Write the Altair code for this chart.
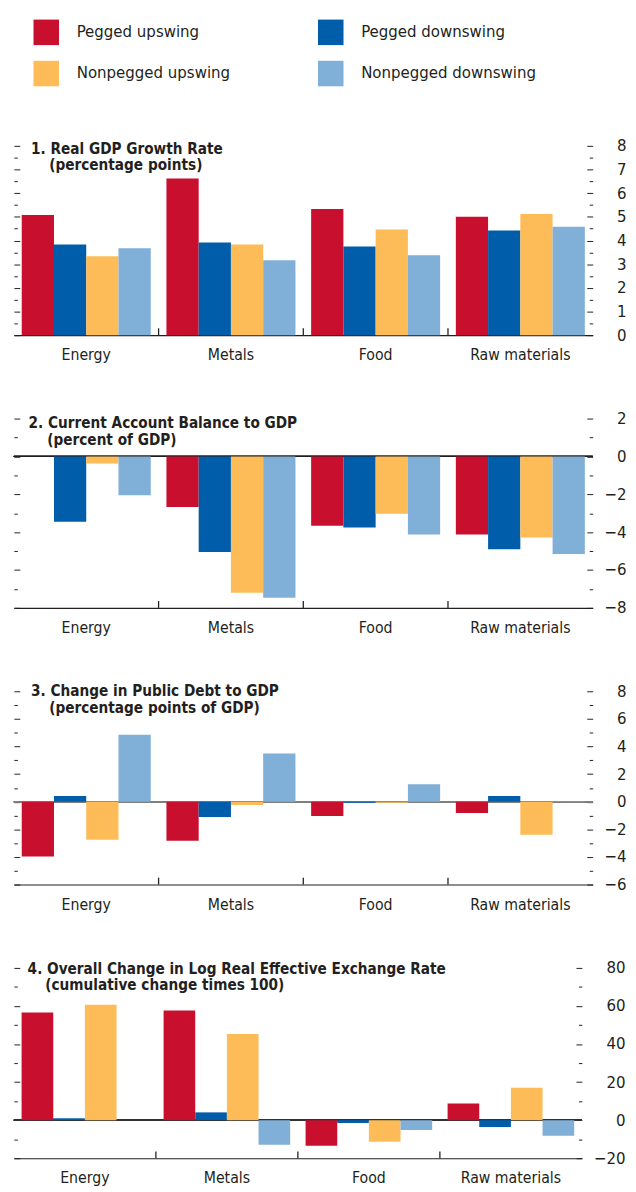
import altair as alt
import pandas as pd

categories = ["Energy", "Metals", "Food", "Raw materials"]
series = ["Pegged upswing", "Pegged downswing", "Nonpegged upswing", "Nonpegged downswing"]
colors = ["#C8102E", "#005DAA", "#FDBC58", "#80AFD7"]
# legend fills column by column: this order gives the reference's two rows
legend_order = ["Pegged upswing", "Nonpegged upswing", "Pegged downswing", "Nonpegged downswing"]
legend_colors = ["#C8102E", "#FDBC58", "#005DAA", "#80AFD7"]

# Panel 1: Real GDP growth rate (percentage points)
gdp_pegged_up = [5.08, 6.62, 5.33, 5.00]
gdp_pegged_down = [3.83, 3.92, 3.75, 4.42]
gdp_nonpegged_up = [3.34, 3.83, 4.46, 5.12]
gdp_nonpegged_down = [3.67, 3.17, 3.38, 4.58]

# Panel 2: Current account balance to GDP (percent of GDP)
ca_pegged_up = [None, -2.67, -3.66, -4.12]
ca_pegged_down = [-3.45, -5.05, -3.76, -4.90]
ca_nonpegged_up = [-0.38, -7.20, -3.03, -4.28]
ca_nonpegged_down = [-2.05, -7.47, -4.12, -5.16]

# Panel 3: Change in public debt to GDP (percentage points of GDP)
debt_pegged_up = [-3.97, -2.82, -1.03, -0.81]
debt_pegged_down = [0.41, -1.10, -0.08, 0.41]
debt_nonpegged_up = [-2.75, -0.24, -0.07, -2.39]
debt_nonpegged_down = [4.85, 3.49, 1.27, 0.03]

# Panel 4: Overall change in log REER (cumulative change times 100)
reer_pegged_up = [56.6, 57.6, -13.4, 8.7]
reer_pegged_down = [1.0, 4.1, -1.5, -3.6]
reer_nonpegged_up = [60.7, 45.3, -11.3, 17.0]
reer_nonpegged_down = [None, -12.9, -5.1, -8.2]

FONT = "Liberation Sans Narrow, DejaVu Sans Condensed, Arial Narrow, sans-serif"
INK = "#231F20"
PAD_INNER = 0.1085


def make_df(cols):
    rows = []
    for s, vals in zip(series, cols):
        for c, v in zip(categories, vals):
            rows.append({"category": c, "series": s, "value": v})
    return pd.DataFrame(rows)


legend = alt.Legend(
    orient="none", legendX=20, legendY=-128.7, columns=2,
    symbolType="square", symbolSize=676, symbolStrokeWidth=0,
    labelFontSize=17, labelOffset=18, columnPadding=89, rowPadding=16,
    padding=0, title=None, labelLimit=400, labelColor=INK, labelFont=FONT,
)

x_axis = alt.Axis(orient="bottom", labelAngle=0, ticks=False, tickSize=0,
                  labelPadding=12, domainColor=INK, domainWidth=1.2, title=None,
                  labelFontSize=16, labelColor=INK, grid=False)


def panel(cols, t1, t2, domain, major, minor, width, height, label_pad,
          zero_color, tpos):
    df = make_df(cols)
    base = alt.Chart(df)
    xscale = alt.Scale(domain=categories, paddingInner=PAD_INNER, paddingOuter=PAD_INNER / 2)
    yscale = alt.Scale(domain=domain, nice=False, zero=False)
    half_gap = PAD_INNER * width / 4 / 2

    bars = base.mark_bar().encode(
        x=alt.X("category:N", scale=xscale, title=None, axis=x_axis),
        xOffset=alt.XOffset("series:N", sort=series,
                            scale=alt.Scale(domain=series, paddingInner=0, paddingOuter=0)),
        y=alt.Y("value:Q", scale=yscale, title=None,
                axis=alt.Axis(orient="left", values=major, labels=False, domain=False,
                              tickSize=6, offset=-6, tickColor=INK, tickWidth=1, grid=False)),
        color=alt.Color("series:N", scale=alt.Scale(domain=legend_order, range=legend_colors),
                        legend=legend, title=None),
    )

    def axis_layer(orient, values, size, labels):
        return base.mark_point(opacity=0).encode(
            x=alt.X("category:N", scale=xscale, title=None, axis=x_axis),
            y=alt.Y("value:Q", scale=yscale, title=None,
                    axis=alt.Axis(orient=orient, values=values, labels=labels, domain=False,
                                  tickSize=size, offset=-size, tickColor=INK, tickWidth=1,
                                  grid=False, labelAlign="right", labelBaseline="middle",
                                  labelPadding=label_pad, labelFontSize=17, labelColor=INK,
                                  format="d")))

    layers = []
    if zero_color is not None:
        layers.append(base.mark_rule(color=zero_color, strokeWidth=1).encode(
            y=alt.YDatum(0, type="quantitative", axis=None, scale=yscale)))
    layers.append(bars)
    sep = alt.Chart(pd.DataFrame({"category": categories[1:]})).mark_rule(
        color=INK, strokeWidth=1.3, xOffset=-half_gap).encode(
        x=alt.X("category:N", scale=xscale, bandPosition=0, title=None, axis=x_axis),
        y=alt.value(height - 7), y2=alt.value(height))
    layers.append(sep)
    layers.append(axis_layer("left", minor, 3.5, False))
    layers.append(axis_layer("right", major, 6, True))
    layers.append(axis_layer("right", minor, 3.5, False))
    (x1, y1, x2) = tpos
    for txt, xx, yy in [(t1, x1, y1), (t2, x2, y1 + 17)]:
        layers.append(alt.Chart(pd.DataFrame({"t": [txt]})).mark_text(
            align="left", baseline="alphabetic", fontSize=15.5, fontWeight="bold",
            color=INK, font=FONT).encode(
            text="t:N", x=alt.value(xx), y=alt.value(yy)))

    return alt.layer(*layers).resolve_axis(y="independent").properties(
        width=width, height=height)


p1 = panel([gdp_pegged_up, gdp_pegged_down, gdp_nonpegged_up, gdp_nonpegged_down],
           "1. Real GDP Growth Rate", "(percentage points)",
           [0, 8], list(range(0, 9)), [i + 0.5 for i in range(8)],
           590, 193, 34, None, (17.5, 8, 36))
p2 = panel([ca_pegged_up, ca_pegged_down, ca_nonpegged_up, ca_nonpegged_down],
           "2. Current Account Balance to GDP", "(percent of GDP)",
           [-8, 2], list(range(-8, 3, 2)), [-7, -5, -3, -1, 1],
           590, 193, 34, "#231F20", (15, 10, 34))
p3 = panel([debt_pegged_up, debt_pegged_down, debt_nonpegged_up, debt_nonpegged_down],
           "3. Change in Public Debt to GDP", "(percentage points of GDP)",
           [-6, 8], list(range(-6, 9, 2)), [-5, -3, -1, 1, 3, 5, 7],
           590, 197, 34, "#808080", (17.5, 5, 36))
p4 = panel([reer_pegged_up, reer_pegged_down, reer_nonpegged_up, reer_nonpegged_down],
           "4. Overall Change in Log Real Effective Exchange Rate",
           "(cumulative change times 100)",
           [-20, 80], list(range(-20, 81, 20)), [-10, 10, 30, 50, 70],
           579, 194, 44, "#333333", (14, 6, 32))

chart = alt.vconcat(p1, p2, p3, p4, spacing=48).resolve_scale(
    xOffset="independent"
).properties(
    padding={"left": 5, "top": 0, "right": 2, "bottom": 0}
).configure(font=FONT).configure_view(stroke=None).configure_axis(labelFont=FONT)

chart.save("out.html", embed_options={"renderer": "svg", "actions": False})
